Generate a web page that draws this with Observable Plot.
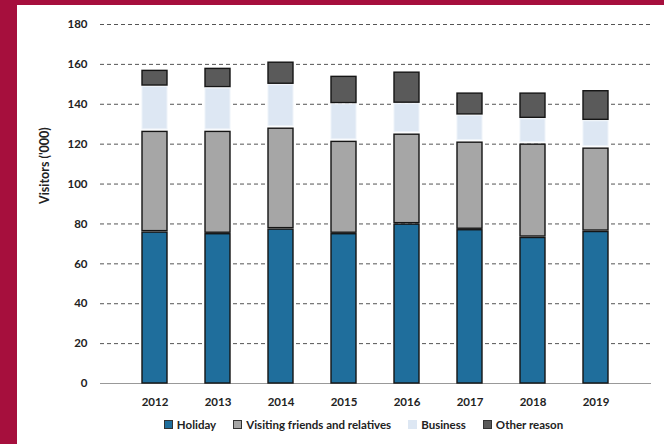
<!DOCTYPE html>
<html>
<head>
<meta charset="utf-8">
<script src="https://cdn.jsdelivr.net/npm/d3@7"></script>
<script src="https://cdn.jsdelivr.net/npm/@observablehq/plot@0.6"></script>
<style>
  html, body { margin: 0; padding: 0; background: #fff; }
  #wrap { width: 647px; height: 439px; border-left: 17px solid #a60f3d; border-top: 5px solid #a60f3d; background: #fff; position: relative; overflow: hidden; }
  #legend { display: flex; justify-content: center; gap: 17px; font: bold 11.5px Lato, "Open Sans", sans-serif; color: #222; margin-left: 46px; margin-top: 3px; }
  #legend span.item { display: inline-flex; align-items: center; gap: 4px; }
  #legend span.sw { display: inline-block; width: 7px; height: 7px; border: 1px solid #333; }
</style>
</head>
<body>
<div id="wrap"><div id="chart"></div><div id="legend"></div></div>
<script>
const years = ["2012","2013","2014","2015","2016","2017","2018","2019"];
const reasons = ["Holiday","Visiting friends and relatives","Business","Other reason"];
const holiday  = [76.4, 75.6, 77.9, 75.6, 80.4, 77.6, 73.7, 76.7];
const vfr      = [50.5, 51.3, 50.6, 46.3, 45.1, 43.9, 46.8, 41.8];
const business = [22.5, 21.7, 21.8, 18.7, 15.3, 13.4, 12.7, 13.7];
const other    = [8.1, 9.9, 11.3, 13.9, 15.8, 11.2, 12.9, 15.1];
const colors = ["#1f6e9c", "#a6a6a6", "#dde7f3", "#5a5a5a"];
const yTicks = [0,20,40,60,80,100,120,140,160,180];
const yTitle = "Visitors ('000)";

const series = [holiday, vfr, business, other];
const data = [];
years.forEach((yr, i) => {
  let base = 0;
  reasons.forEach((r, j) => {
    const v = series[j][i];
    data.push({year: yr, reason: r, value: v, y1: base, y2: base + v});
    base += v;
  });
});

const chart = Plot.plot({
  width: 647,
  height: 410,
  marginTop: 19,
  marginBottom: 32,
  marginLeft: 86,
  marginRight: 16,
  style: {fontFamily: "Lato, 'Open Sans', sans-serif", fontSize: "11.5px", fontWeight: "bold", color: "#222", background: "#fff"},
  x: {domain: years, padding: 0.6, label: null},
  y: {domain: [0, 180], ticks: yTicks, label: null},
  color: {domain: reasons, range: colors},
  marks: [
    Plot.ruleY(yTicks.filter(t => t > 0), {stroke: "#555", strokeWidth: 1, strokeDasharray: "4,3", insetLeft: -3, insetRight: -3}),
    Plot.ruleY([0], {stroke: "#999", strokeWidth: 1.2, insetLeft: -3, insetRight: -3}),
    Plot.barY(data, {
      filter: d => d.reason !== "Business",
      x: "year", y1: "y1", y2: "y2", fill: "reason",
      stroke: "#151515", strokeWidth: 1.4,
      insetTop: 1.5
    }),
    Plot.barY(data, {
      filter: d => d.reason === "Business",
      x: "year", y1: "y1", y2: "y2", fill: "reason",
      stroke: "#eef3f9", strokeWidth: 1,
      insetTop: 1.5, insetBottom: 1
    }),
    Plot.axisY({ticks: yTicks, tickSize: 0, tickPadding: 16, label: null}),
    Plot.axisX({tickSize: 0, tickPadding: 14, label: null}),
    Plot.text([yTitle], {frameAnchor: "left", rotate: -90, dx: -59, fontSize: 12.5, fontWeight: "bold", fill: "#222"})
  ]
});
document.getElementById("chart").appendChild(chart);

const lg = document.getElementById("legend");
reasons.forEach((r, j) => {
  const it = document.createElement("span");
  it.className = "item";
  const sw = document.createElement("span");
  sw.className = "sw";
  sw.style.background = colors[j];
  if (r === "Business") sw.style.borderColor = "#dde7f3";
  it.appendChild(sw);
  it.appendChild(document.createTextNode(r));
  lg.appendChild(it);
});
</script>
</body>
</html>
